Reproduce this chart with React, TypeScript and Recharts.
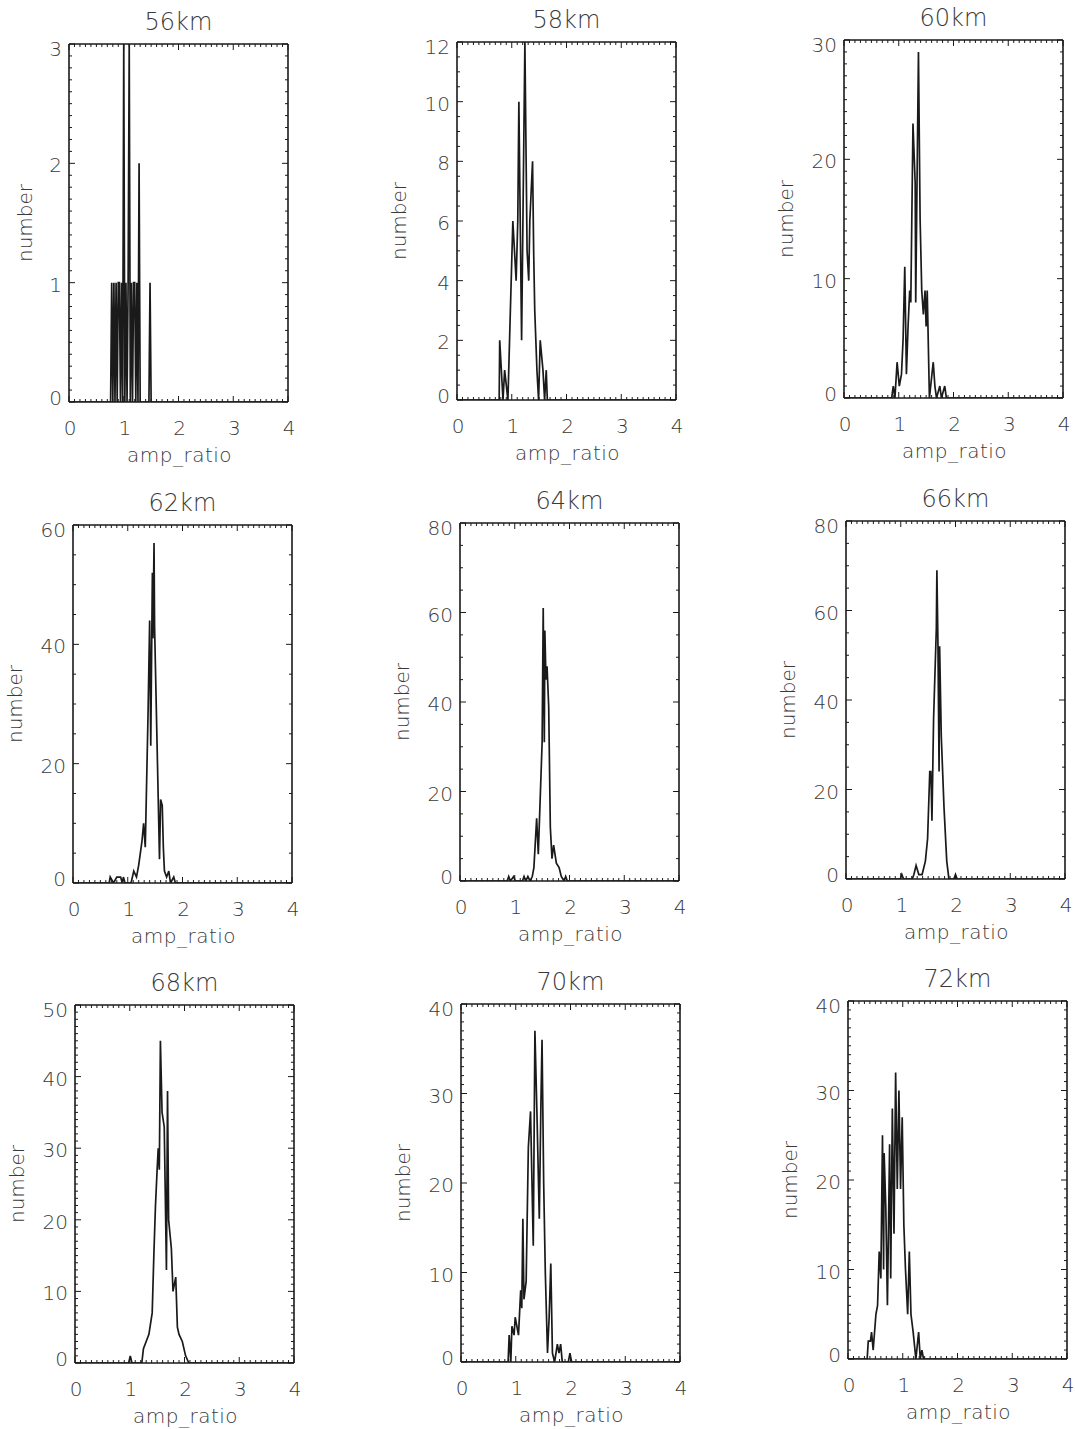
import React from 'react';
import { LineChart, Line, XAxis, YAxis, Label } from 'recharts';

// ---------- shared axis content ----------
const xMajorTicks = [0, 1, 2, 3, 4];
const xMinorStep = 0.1;
const xAxisTitle = 'amp_ratio';
const yAxisTitle = 'number';

// ---------- 56km ----------
const km56X = [0, 0.76, 0.78, 0.8, 0.82, 0.84, 0.86, 0.88, 0.9, 0.92, 0.94, 0.96, 0.98, 1.0, 1.02, 1.04, 1.06, 1.08, 1.1, 1.12, 1.14, 1.16, 1.18, 1.2, 1.22, 1.24, 1.26, 1.28, 1.3, 1.46, 1.48, 1.5, 4];
const km56Y = [0, 0, 1, 0, 1, 0, 1, 0, 1, 1, 0, 1, 0, 3, 0, 1, 0, 1, 3, 0, 1, 0, 1, 1, 0, 1, 0, 2, 0, 0, 1, 0, 0];
const km56YTicks = [0, 1, 2, 3];

// ---------- 58km ----------
const km58X = [0, 0.77, 0.78, 0.84, 0.87, 0.93, 0.96, 1.02, 1.05, 1.08, 1.11, 1.13, 1.18, 1.24, 1.28, 1.31, 1.33, 1.38, 1.4, 1.42, 1.46, 1.49, 1.52, 1.57, 1.6, 1.63, 1.65, 4];
const km58Y = [0, 0, 2, 0, 1, 0, 2, 6, 5, 4, 6, 10, 2, 12, 5, 4, 6, 8, 5, 3, 1, 0, 2, 1, 0, 1, 0, 0];
const km58YTicks = [0, 2, 4, 6, 8, 10, 12];

// ---------- 60km ----------
const km60X = [0, 0.87, 0.9, 0.93, 0.97, 1.01, 1.05, 1.08, 1.11, 1.14, 1.17, 1.2, 1.22, 1.26, 1.3, 1.31, 1.36, 1.39, 1.42, 1.45, 1.48, 1.5, 1.52, 1.56, 1.63, 1.66, 1.69, 1.75, 1.78, 1.84, 1.87, 4];
const km60Y = [0, 0, 1, 0, 3, 1, 2, 5, 11, 2, 6, 9, 8, 23, 18, 8, 29, 15, 9, 7, 9, 6, 9, 0, 3, 1, 0, 1, 0, 1, 0, 0];
const km60YTicks = [0, 10, 20, 30];

// ---------- 62km ----------
const km62X = [0, 0.66, 0.68, 0.74, 0.8, 0.87, 0.9, 0.92, 0.95, 1.06, 1.11, 1.16, 1.2, 1.26, 1.29, 1.32, 1.37, 1.4, 1.42, 1.45, 1.46, 1.48, 1.49, 1.58, 1.6, 1.63, 1.65, 1.67, 1.71, 1.75, 1.78, 1.84, 1.87, 4];
const km62Y = [0, 0, 1, 0, 1, 1, 0, 1, 0, 0, 2, 1, 3, 7, 10, 6, 28, 44, 23, 52, 41, 57, 43, 4, 14, 13, 6, 2, 1, 2, 0, 1, 0, 0];
const km62YTicks = [0, 20, 40, 60];

// ---------- 64km ----------
const km64X = [0, 0.86, 0.89, 0.92, 0.98, 1.01, 1.14, 1.17, 1.2, 1.24, 1.28, 1.32, 1.35, 1.4, 1.43, 1.5, 1.52, 1.54, 1.55, 1.57, 1.59, 1.62, 1.65, 1.68, 1.71, 1.76, 1.81, 1.85, 1.9, 1.93, 1.96, 4];
const km64Y = [0, 0, 1, 0, 1, 0, 0, 1, 0, 1, 0, 1, 3, 14, 6, 31, 61, 31, 56, 45, 48, 39, 12, 5, 8, 4, 3, 1, 0, 1, 0, 0];
const km64YTicks = [0, 20, 40, 60, 80];

// ---------- 66km ----------
const km66X = [0, 0.99, 1.02, 1.05, 1.21, 1.24, 1.28, 1.33, 1.39, 1.45, 1.49, 1.53, 1.55, 1.57, 1.6, 1.65, 1.66, 1.68, 1.7, 1.71, 1.74, 1.79, 1.84, 1.88, 1.97, 2.0, 2.03, 4];
const km66Y = [0, 0, 1, 0, 0, 1, 3, 1, 1, 4, 9, 24, 24, 13, 36, 56, 69, 52, 24, 52, 32, 16, 4, 0, 0, 1, 0, 0];
const km66YTicks = [0, 20, 40, 60, 80];

// ---------- 68km ----------
const km68X = [0, 0.98, 1.01, 1.04, 1.22, 1.25, 1.3, 1.35, 1.41, 1.44, 1.47, 1.5, 1.52, 1.54, 1.56, 1.59, 1.63, 1.67, 1.69, 1.71, 1.76, 1.79, 1.84, 1.87, 1.9, 1.96, 2.02, 2.08, 4];
const km68Y = [0, 0, 1, 0, 0, 2, 3, 4, 7, 15, 22, 27, 30, 27, 45, 35, 33, 13, 38, 20, 16, 10, 12, 5, 4, 3, 1, 0, 0];
const km68YTicks = [0, 10, 20, 30, 40, 50];

// ---------- 70km ----------
const km70X = [0, 0.86, 0.88, 0.91, 0.93, 0.97, 0.99, 1.05, 1.09, 1.11, 1.13, 1.15, 1.19, 1.23, 1.27, 1.32, 1.35, 1.39, 1.43, 1.46, 1.48, 1.51, 1.54, 1.58, 1.61, 1.64, 1.67, 1.71, 1.76, 1.79, 1.82, 1.85, 1.96, 1.99, 2.02, 4];
const km70Y = [0, 0, 3, 0, 4, 3, 5, 3, 8, 6, 16, 7, 9, 24, 28, 13, 37, 27, 16, 29, 36, 20, 10, 1, 5, 11, 1, 0, 2, 1, 2, 0, 0, 1, 0, 0];
const km70YTicks = [0, 10, 20, 30, 40];

// ---------- 72km ----------
const km72X = [0, 0.35, 0.37, 0.41, 0.43, 0.46, 0.51, 0.54, 0.57, 0.6, 0.63, 0.65, 0.66, 0.69, 0.72, 0.76, 0.78, 0.81, 0.84, 0.87, 0.9, 0.93, 0.96, 0.99, 1.02, 1.05, 1.09, 1.12, 1.15, 1.19, 1.24, 1.29, 1.32, 1.35, 1.38, 4];
const km72Y = [0, 0, 2, 2, 3, 1, 5, 6, 12, 9, 25, 10, 23, 17, 6, 24, 9, 28, 14, 32, 19, 30, 19, 27, 15, 10, 5, 12, 5, 3, 0, 3, 0, 1, 0, 0];
const km72YTicks = [0, 10, 20, 30, 40];

// ---------- styling ----------
const INK = '#1a1a1a';
const TEXT = '#3a3a3a';
const FONT = '"DejaVu Sans", "Liberation Sans", sans-serif';
const PLOT_W = 219;
const PLOT_H = 358;
const AX = 1; // thickness reserved by each axis
const M = { top: 45, right: 15, bottom: 72, left: 78 };
const MARGIN = { top: M.top - AX, right: M.right - AX, bottom: M.bottom - AX, left: M.left - AX };

type Panel = {
  title: string;
  xs: number[];
  ys: number[];
  yTicks: number[];
  yMinorPerMajor: number;
  left: number;
  top: number;
};

const panels: Panel[] = [
  { title: '56km', xs: km56X, ys: km56Y, yTicks: km56YTicks, yMinorPerMajor: 10, left: 68.5, top: 43.5 },
  { title: '58km', xs: km58X, ys: km58Y, yTicks: km58YTicks, yMinorPerMajor: 4, left: 457, top: 42 },
  { title: '60km', xs: km60X, ys: km60Y, yTicks: km60YTicks, yMinorPerMajor: 10, left: 844, top: 39.5 },
  { title: '62km', xs: km62X, ys: km62Y, yTicks: km62YTicks, yMinorPerMajor: 4, left: 72.5, top: 525 },
  { title: '64km', xs: km64X, ys: km64Y, yTicks: km64YTicks, yMinorPerMajor: 4, left: 460, top: 522.5 },
  { title: '66km', xs: km66X, ys: km66Y, yTicks: km66YTicks, yMinorPerMajor: 4, left: 846, top: 521 },
  { title: '68km', xs: km68X, ys: km68Y, yTicks: km68YTicks, yMinorPerMajor: 10, left: 75, top: 1005 },
  { title: '70km', xs: km70X, ys: km70Y, yTicks: km70YTicks, yMinorPerMajor: 10, left: 461, top: 1004 },
  { title: '72km', xs: km72X, ys: km72Y, yTicks: km72YTicks, yMinorPerMajor: 10, left: 848, top: 1001 },
];

const round6 = (v: number) => Math.round(v * 1e6) / 1e6;

function minorTicks(majors: number[], perMajor: number): number[] {
  const out: number[] = [];
  for (let i = 0; i < majors.length - 1; i++) {
    const a = majors[i];
    const b = majors[i + 1];
    for (let k = 0; k < perMajor; k++) out.push(round6(a + ((b - a) * k) / perMajor));
  }
  out.push(majors[majors.length - 1]);
  return out;
}

const xAllTicks = minorTicks(xMajorTicks, Math.round(1 / xMinorStep));

const isMajor = (v: number, majors: number[]) => majors.some((m) => Math.abs(m - v) < 1e-6);

type Side = 'bottom' | 'top' | 'left' | 'right';

const makeTick = (side: Side, majors: number[], showLabels: boolean) => (props: any) => {
  const { x, y, payload } = props;
  const v = payload.value as number;
  const major = isMajor(v, majors);
  const len = major ? 6 : 3;
  let line: React.ReactNode = null;
  if (side === 'bottom') line = <line x1={x} y1={y} x2={x} y2={y - len} stroke={INK} strokeWidth={1} />;
  if (side === 'top') line = <line x1={x} y1={y} x2={x} y2={y + len} stroke={INK} strokeWidth={1} />;
  if (side === 'left') line = <line x1={x} y1={y} x2={x + len} y2={y} stroke={INK} strokeWidth={1} />;
  if (side === 'right') line = <line x1={x} y1={y} x2={x - len} y2={y} stroke={INK} strokeWidth={1} />;
  let label: React.ReactNode = null;
  if (showLabels && major) {
    const txt = String(Math.round(v));
    if (side === 'bottom')
      label = (
        <text x={x + 1} y={y + 26} textAnchor="middle" dominantBaseline="central" fill={TEXT} fontSize={20} fontFamily={FONT} fontWeight={300}>
          {txt}
        </text>
      );
    if (side === 'left') {
      const top = Math.abs(v - majors[majors.length - 1]) < 1e-6;
      const bottom = Math.abs(v - majors[0]) < 1e-6;
      const dy = top ? 5 : bottom ? -4 : 2;
      label = (
        <text x={x - 7} y={y + dy} textAnchor="end" dominantBaseline="central" fill={TEXT} fontSize={20} fontFamily={FONT} fontWeight={300}>
          {txt}
        </text>
      );
    }
  }
  return (
    <g>
      {line}
      {label}
    </g>
  );
};

function PanelChart({ p }: { p: Panel }) {
  const data = p.xs.map((x, i) => ({ x, y: p.ys[i] }));
  const yMax = p.yTicks[p.yTicks.length - 1];
  const yAll = minorTicks(p.yTicks, p.yMinorPerMajor);
  const maxLabelLen = String(yMax).length;
  const numberOffset = maxLabelLen > 1 ? 58 : 44;
  const axisLine = { stroke: INK, strokeWidth: 1.6 };
  const plotLeft = M.left;
  const plotTop = M.top;
  const plotBottom = M.top + PLOT_H;
  return (
    <div style={{ position: 'absolute', left: p.left - M.left, top: p.top - M.top }}>
      <LineChart width={PLOT_W + M.left + M.right} height={PLOT_H + M.top + M.bottom} data={data} margin={MARGIN}>
        <XAxis
          xAxisId="b"
          dataKey="x"
          type="number"
          domain={[0, 4]}
          ticks={xAllTicks}
          interval={0}
          allowDataOverflow
          height={AX}
          tickSize={0}
          tickMargin={0}
          tickLine={false}
          axisLine={axisLine}
          tick={makeTick('bottom', xMajorTicks, true)}
        >
          <Label
            content={() => (
              <text x={plotLeft + PLOT_W / 2 + 1} y={plotBottom + 53} textAnchor="middle" dominantBaseline="central" fill={TEXT} fontSize={20} fontFamily={FONT} fontWeight={300} letterSpacing={0.5}>
                {xAxisTitle}
              </text>
            )}
          />
        </XAxis>
        <XAxis
          xAxisId="t"
          orientation="top"
          dataKey="x"
          type="number"
          domain={[0, 4]}
          ticks={xAllTicks}
          interval={0}
          allowDataOverflow
          height={AX}
          tickSize={0}
          tickMargin={0}
          tickLine={false}
          axisLine={axisLine}
          tick={makeTick('top', xMajorTicks, false)}
        >
          <Label
            content={() => (
              <text x={plotLeft + PLOT_W / 2} y={plotTop - 22} textAnchor="middle" dominantBaseline="central" fill={TEXT} fontSize={24} fontFamily={FONT} fontWeight={300}>
                {p.title}
              </text>
            )}
          />
        </XAxis>
        <YAxis
          yAxisId="l"
          dataKey="y"
          type="number"
          domain={[0, yMax]}
          ticks={yAll}
          interval={0}
          allowDataOverflow
          width={AX}
          tickSize={0}
          tickMargin={0}
          tickLine={false}
          axisLine={axisLine}
          tick={makeTick('left', p.yTicks, true)}
        >
          <Label
            content={() => {
              const cx = plotLeft - numberOffset;
              const cy = plotTop + PLOT_H / 2;
              return (
                <text x={cx} y={cy} transform={`rotate(-90 ${cx} ${cy})`} textAnchor="middle" dominantBaseline="central" fill={TEXT} fontSize={20} fontFamily={FONT} fontWeight={300}>
                  {yAxisTitle}
                </text>
              );
            }}
          />
        </YAxis>
        <YAxis
          yAxisId="r"
          orientation="right"
          dataKey="y"
          type="number"
          domain={[0, yMax]}
          ticks={yAll}
          interval={0}
          allowDataOverflow
          width={AX}
          tickSize={0}
          tickMargin={0}
          tickLine={false}
          axisLine={axisLine}
          tick={makeTick('right', p.yTicks, false)}
        />
        <Line
          xAxisId="b"
          yAxisId="l"
          dataKey="y"
          type="linear"
          stroke={INK}
          strokeWidth={1.7}
          dot={false}
          activeDot={false}
          isAnimationActive={false}
        />
      </LineChart>
    </div>
  );
}

export default function App() {
  return (
    <div style={{ position: 'absolute', left: 0, top: 0, width: 1075, height: 1429, background: '#fff', overflow: 'hidden' }}>
      {panels.map((p) => (
        <PanelChart key={p.title} p={p} />
      ))}
    </div>
  );
}
